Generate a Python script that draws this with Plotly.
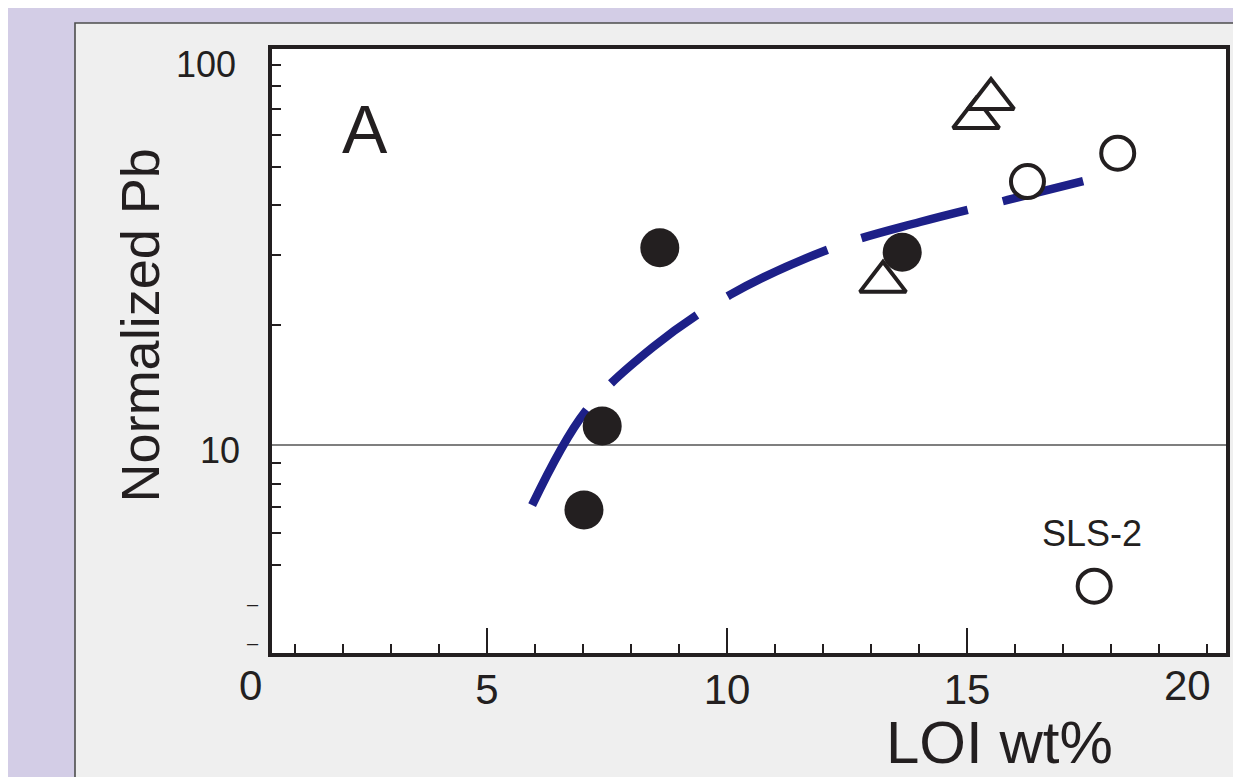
import math
import plotly.graph_objects as go

# ---- data ----
filled_x = [7.02, 7.40, 8.60, 13.65]
filled_y = [6.87, 11.16, 31.3, 30.5]

tri_x = [13.25, 15.19, 15.50]
tri_y = [25.7, 66.3, 74.0]

open_x = [16.26, 18.14, 17.65]
open_y = [45.9, 54.1, 4.42]

trend_x = [5.94, 7.04, 8.46, 10.06, 12.19, 14.02, 15.85, 17.42]
trend_y = [7.06, 12.10, 17.63, 23.83, 31.26, 36.33, 41.27, 46.06]

x_major = [5, 10, 15]
x_major_text = ["5", "10", "15"]
x_minor = [1, 2, 3, 4, 6, 7, 8, 9, 11, 12, 13, 14, 16, 17, 18, 19, 20]
y_minor = [5, 6, 7, 8, 9, 20, 30, 40, 50, 60, 70, 80, 90]

label_name = "SLS-2"
label_pt = (17.6, 6.01)

INK = "#231f20"
FONT = "Liberation Sans, Arial, sans-serif"

fig = go.Figure()

fig.add_trace(go.Scatter(
    x=trend_x, y=trend_y, mode="lines",
    line=dict(color="#1d2088", width=8.5, dash="110px,36px", shape="spline"),
    hoverinfo="skip", showlegend=False))

fig.add_trace(go.Scatter(
    x=tri_x, y=tri_y, mode="markers",
    marker=dict(symbol="triangle-up", size=40, color="white",
                line=dict(color=INK, width=4)),
    showlegend=False))

fig.add_trace(go.Scatter(
    x=filled_x, y=filled_y, mode="markers",
    marker=dict(symbol="circle", size=39, color=INK, line=dict(width=0)),
    showlegend=False))

fig.add_trace(go.Scatter(
    x=open_x, y=open_y, mode="markers",
    marker=dict(symbol="circle", size=33, color="white",
                line=dict(color=INK, width=4)),
    showlegend=False))

# gray panel and white plotting area
fig.add_shape(type="rect", xref="paper", yref="paper",
              x0=-0.2065, x1=1.2, y0=-0.4, y1=1.043,
              fillcolor="#efefef", line=dict(color="#4d4d4d", width=1.6),
              layer="below")
fig.add_shape(type="rect", xref="paper", yref="paper",
              x0=0, x1=1, y0=0, y1=1,
              fillcolor="white", line=dict(width=0), layer="below")
# gridline at 10
fig.add_shape(type="line", xref="paper", yref="y", x0=0, x1=1, y0=10, y1=10,
              line=dict(color="#7f7f7f", width=1.8), layer="below")

ann = []
def txt(t, x, y, size, xref="paper", yref="paper", angle=0):
    ann.append(dict(text=t, x=x, y=y, xref=xref, yref=yref, showarrow=False,
                    xanchor="center", yanchor="middle", textangle=angle,
                    font=dict(family=FONT, size=size, color=INK)))

txt("A", 0.0975, 0.8675, 68)
# log axis: annotation y is given in log10 units
txt(label_name, label_pt[0], math.log10(label_pt[1]), 36, xref="x", yref="y")
txt("0", -0.023, -0.053, 42)
txt("20", 0.960, -0.053, 42)
txt("100", -0.069, 0.975, 36)
txt("10", -0.0545, 0.336, 36)
txt("–", -0.0194, 0.0811, 20)
txt("–", -0.0194, 0.0166, 20)
txt("LOI wt%", 0.763, -0.149, 60)
txt("Normalized Pb", -0.138, 0.543, 54, angle=-90)

# page body has an 8px margin: the figure is sized and placed to compensate
fig.update_layout(
    width=1233, height=769,
    margin=dict(l=264, r=15, t=41, b=124),
    paper_bgcolor="#d3cde6", plot_bgcolor="white",
    font=dict(family=FONT, color=INK),
    annotations=ann,
    xaxis=dict(range=[0.5208, 20.396], tickvals=x_major, ticktext=x_major_text,
               ticks="inside", ticklen=25, tickwidth=2, tickcolor=INK,
               ticklabelstandoff=-3,
               minor=dict(tickvals=x_minor, ticks="inside", ticklen=9,
                          tickwidth=2, tickcolor=INK),
               tickfont=dict(family=FONT, size=42, color=INK),
               showline=True, linewidth=4, linecolor=INK, mirror=True,
               showgrid=False, zeroline=False),
    yaxis=dict(type="log", range=[0.4774, 1.995], tickvals=y_minor,
               ticks="inside", ticklen=9, tickwidth=1.8, tickcolor=INK,
               showticklabels=False,
               showline=True, linewidth=4, linecolor=INK, mirror=True,
               showgrid=False, zeroline=False),
)

fig.write_html("out.html")
